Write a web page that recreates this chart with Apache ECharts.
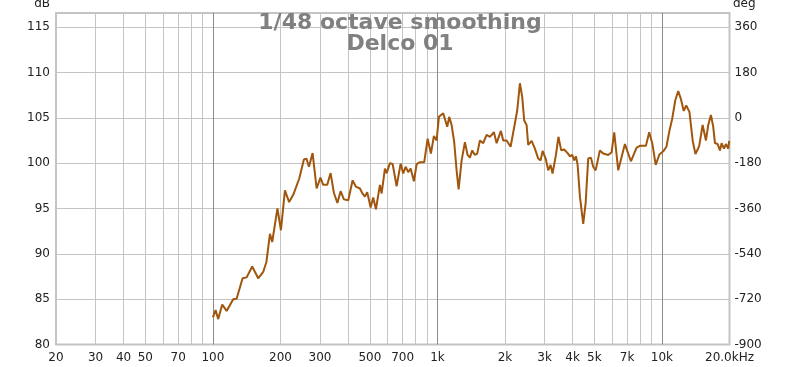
<!DOCTYPE html>
<html>
<head>
<meta charset="utf-8">
<script src="https://cdn.jsdelivr.net/npm/echarts@6/dist/echarts.min.js"></script>
<style>
html,body{margin:0;padding:0;background:#fff;}
#chart{width:800px;height:367px;}
</style>
</head>
<body>
<div id="chart"></div>
<script>
// Frequency (Hz) and SPL (dB)
const freqHz = [100,102.8,105.6,110,115.1,123.1,127.5,135.6,141.3,149.6,159.1,167.5,173.1,179.5,183.7,193.8,200.9,209.3,218.5,227.9,242.4,254.3,260.9,267.7,278,289.7,301.2,310,322.9,334.4,345.9,358.5,370.5,383.3,400.6,419.1,433.5,451.6,462.4,475.4,486.7,504,517.6,532.2,554.5,564.3,583.7,594,614.4,631.7,658.1,685.7,704.2,721.8,741.3,759.8,785.9,808,835.8,873.5,904.5,935.5,964.7,991.8,1015.5,1061.3,1080,1105.8,1128.7,1156.8,1188,1217.6,1242.8,1281.7,1325.8,1363,1395.6,1428.9,1469,1504,1546.2,1599.5,1656.3,1713.3,1785.1,1835.2,1918,1963.8,2033.4,2118.5,2214,2266.8,2330.4,2386,2435.5,2496.1,2537.4,2627.4,2717.8,2811.9,2881.9,2941.6,3042.9,3115.5,3191.2,3257.4,3371.8,3459.4,3560.2,3671.5,3801.8,3892.5,3985.3,4068,4139.6,4212.4,4312.8,4461.4,4572.5,4696.1,4828,4943.2,5066.5,5295,5477.4,5765.5,5970.3,6131.6,6388.3,6842.1,7276,7713.8,7979.9,8485.5,8777.5,9070.8,9382.7,9746.8,10134,10472,10778,11115,11463,11821,12153,12508,12833,13261,13704,14103,14648,15183,15706,16081,16532,16927,17225,17709,18131,18450,18890,19282,19742,19945];
const splDb = [83.0,83.8,82.8,84.4,83.7,85.0,85.05,87.3,87.4,88.6,87.3,88.0,89.1,92.2,91.3,95.0,92.6,97.0,95.7,96.5,98.3,100.4,100.5,99.6,101.1,97.2,98.4,97.6,97.6,98.9,96.7,95.6,96.9,96.0,95.9,98.1,97.4,97.2,96.7,96.3,96.8,95.1,96.2,94.9,97.6,96.65,99.4,98.9,100.0,99.9,97.45,99.95,98.85,99.6,99.0,99.4,98.0,99.9,100.1,100.1,102.7,101.05,103.0,102.5,105.1,105.5,105.5,104.0,105.1,104.2,102.3,99.2,97.1,100.3,102.3,100.9,100.6,101.4,100.9,101.05,102.5,102.2,103.1,102.9,103.4,102.2,103.55,102.5,102.5,101.8,104.4,105.8,108.8,107.3,104.7,104.2,102.0,102.45,101.6,100.5,100.3,101.35,100.4,99.2,99.8,98.85,100.9,102.9,101.4,101.5,101.1,100.75,100.9,100.3,100.75,99.8,96.3,93.3,95.55,100.5,100.6,99.6,99.2,101.4,101.05,100.9,101.2,103.4,99.2,102.1,100.2,101.7,101.9,101.9,103.4,102.1,99.8,100.95,101.3,101.8,103.45,104.9,106.9,107.95,107.05,105.75,106.35,105.65,102.5,101.0,101.85,104.2,102.5,104.2,105.3,104.0,102.2,102.1,101.4,102.2,101.6,102.1,101.6,102.45];

const gridTicks = [20,30,40,50,60,70,80,90,100,200,300,400,500,600,700,800,900,1000,2000,3000,4000,5000,6000,7000,8000,9000,10000,20000];
const labelTicks = [20,30,40,50,70,100,200,300,500,700,1000,2000,3000,4000,5000,7000,10000,20000];
const decadeTicks = [100,1000,10000];

const chart = echarts.init(document.getElementById('chart'), null, {renderer:'canvas'});
const font = 'DejaVu Sans';
const fmtFreq = v => {
  if (v >= 20000) return '20.0kHz';
  if (v >= 1000) return (v/1000) + 'k';
  return String(v);
};

const option = {
  animation: false,
  backgroundColor: '#ffffff',
  grid: {left: 56, right: 70.5, top: 13, bottom: 22.5, show: true, borderColor: '#c4c4c4', borderWidth: 2, backgroundColor: 'transparent'},
  graphic: [
    {type:'text', left: null, x: 400, y: 13, style: {text: '1/48 octave smoothing\nDelco 01', textAlign: 'center', textVerticalAlign: 'top', font: 'bold 22px "DejaVu Sans"', fill: '#808080', lineHeight: 21}, z: 100},
    {type:'text', x: 50, y: 4, style: {text: 'dB', textAlign: 'right', textVerticalAlign: 'middle', font: '12px "DejaVu Sans"', fill: '#222'}},
    {type:'text', x: 733, y: 4, style: {text: 'deg', textAlign: 'left', textVerticalAlign: 'middle', font: '12px "DejaVu Sans"', fill: '#222'}}
  ],
  xAxis: [
    {
      type: 'log', min: 20, max: 20000, logBase: 10,
      axisLine: {show: false},
      axisTick: {show: false, customValues: gridTicks},
      axisLabel: {customValues: labelTicks, formatter: fmtFreq, color: '#222', fontFamily: font, fontSize: 12, margin: 7},
      splitLine: {show: true, lineStyle: {color: '#c4c4c4', width: 1}}
    },
    {
      type: 'log', min: 20, max: 20000, logBase: 10, position: 'bottom',
      axisLine: {show: false},
      axisTick: {show: false, customValues: decadeTicks},
      axisLabel: {show: false, customValues: decadeTicks},
      splitLine: {show: true, lineStyle: {color: '#8a8a8a', width: 1}}
    }
  ],
  yAxis: [
    {
      type: 'value', min: 80, max: 116.55, interval: 5, position: 'left',
      axisLine: {show: false}, axisTick: {show: false},
      axisLabel: {color: '#222', fontFamily: font, fontSize: 12, margin: 6, showMaxLabel: false},
      splitLine: {show: true, lineStyle: {color: '#c4c4c4', width: 1}}
    },
    {
      type: 'value', min: -900, max: 415.8, interval: 180, position: 'right',
      axisLine: {show: false}, axisTick: {show: false},
      axisLabel: {color: '#222', fontFamily: font, fontSize: 12, margin: 5, showMaxLabel: false},
      splitLine: {show: false}
    }
  ],
  series: [
    {
      type: 'line', xAxisIndex: 0, yAxisIndex: 0,
      data: freqHz.map((f, i) => [f, splDb[i]]),
      showSymbol: false, symbol: 'none', smooth: false,
      lineStyle: {color: '#a0560c', width: 2},
      z: 5
    }
  ]
};
chart.setOption(option);
</script>
</body>
</html>
